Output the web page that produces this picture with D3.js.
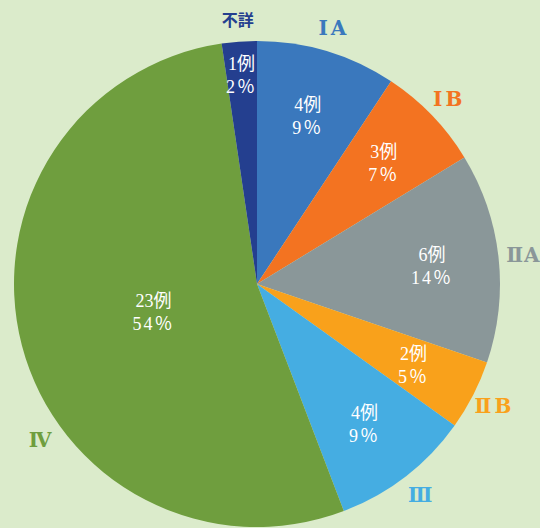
<!DOCTYPE html>
<html>
<head>
<meta charset="utf-8">
<script src="https://cdn.jsdelivr.net/npm/d3@7"></script>
<style>
  html, body { margin: 0; padding: 0; background: #dbebcb; }
  svg { display: block; }
</style>
</head>
<body>
<div id="chart"></div>
<script>
// Stage breakdown pie (cases per stage)
const stages = ["ⅠA", "ⅠB", "ⅡA", "ⅡB", "Ⅲ", "Ⅳ", "不詳"];
const cases = [4, 3, 6, 2, 4, 23, 1];
const percents = [9, 7, 14, 5, 9, 54, 2];   // as printed on the chart
const colors = ["#3a78bd", "#f37321", "#8a9799", "#f9a11b", "#45ade2", "#6f9e3e", "#243f8f"];

const W = 540, H = 528;
const cx = 257, cy = 284, R = 243;

// label tweaks (radius for inner text, angle shift / radius / spacing for outer name)
const innerR = { "Ⅳ": 107, "不詳": 211 };
const outerShift = { "Ⅳ": -21 };
const outerR = { "不詳": 264, "ⅡA": 268 };
const outerSpacing = { "ⅠA": 3, "ⅠB": 3, "ⅡA": 1, "ⅡB": 3 };

const svg = d3.select("#chart").append("svg")
  .attr("width", W)
  .attr("height", H);

const g = svg.append("g").attr("transform", `translate(${cx},${cy})`);

const rows = stages.map((s, i) => ({ stage: s, n: cases[i], pct: percents[i], color: colors[i] }));

const pie = d3.pie().value(d => d.n).sort(null);
const arc = d3.arc().innerRadius(0).outerRadius(R);
const arcs = pie(rows);

g.selectAll("path.slice")
  .data(arcs)
  .enter()
  .append("path")
  .attr("class", "slice")
  .attr("d", arc)
  .attr("fill", d => d.data.color);

function polar(a, r) {
  return [Math.sin(a) * r, -Math.cos(a) * r];
}

const serif = "'DejaVu Serif', 'Liberation Serif', 'Noto Sans CJK JP', serif";
const thinSerif = "'Liberation Serif', 'DejaVu Serif', 'Noto Sans CJK JP', serif";

// value labels inside slices
const inner = g.selectAll("g.inner")
  .data(arcs)
  .enter()
  .append("g")
  .attr("class", "inner")
  .attr("transform", d => {
    const mid = (d.startAngle + d.endAngle) / 2;
    const r = innerR[d.data.stage] || 176;
    const p = polar(mid, r);
    return `translate(${p[0]},${p[1]})`;
  });

inner.append("text")
  .attr("text-anchor", "middle")
  .attr("y", -4)
  .style("font-family", thinSerif)
  .style("font-size", "18px")
  .style("fill", "#ffffff")
  .text(d => d.data.n + "例");

inner.append("text")
  .attr("text-anchor", "middle")
  .attr("y", 19)
  .style("font-family", thinSerif)
  .style("font-size", "18px")
  .style("letter-spacing", "2px")
  .style("fill", "#ffffff")
  .text(d => d.data.pct + "％");

// stage names outside the pie
g.selectAll("text.outer")
  .data(arcs)
  .enter()
  .append("text")
  .attr("class", "outer")
  .attr("text-anchor", "middle")
  .attr("dominant-baseline", "central")
  .attr("transform", d => {
    const mid = (d.startAngle + d.endAngle) / 2 + (outerShift[d.data.stage] || 0) * Math.PI / 180;
    const p = polar(mid, outerR[d.data.stage] || 267);
    return `translate(${p[0]},${p[1]})`;
  })
  .style("font-family", serif)
  .style("font-weight", "bold")
  .style("font-size", d => d.data.stage === "不詳" ? "16px" : "20px")
  .style("letter-spacing", d => (outerSpacing[d.data.stage] || 0) + "px")
  .style("fill", d => d.data.color)
  .text(d => d.data.stage);
</script>
</body>
</html>
